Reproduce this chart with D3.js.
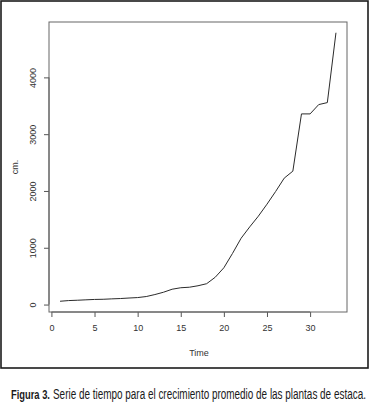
<!DOCTYPE html>
<html>
<head>
<meta charset="utf-8">
<script src="https://cdn.jsdelivr.net/npm/d3@7"></script>
<style>
  html, body { margin: 0; padding: 0; background: #fff; }
  svg { display: block; }
</style>
</head>
<body>
<svg id="chart" width="371" height="403"></svg>
<script>
// Data
const time = [1,2,3,4,5,6,7,8,9,10,11,12,13,14,15,16,17,18,19,20,21,22,23,24,25,26,27,28,29,30,31,32,33];
const growth = [58,70,76,83,90,93,100,106,115,123,141,176,217,270,296,305,331,367,481,648,900,1168,1368,1556,1767,1990,2226,2349,3357,3357,3521,3556,4786];
const xTicks = [0,5,10,15,20,25,30];
const yTicks = [0,1000,2000,3000,4000];
const xLabel = "Time";
const yLabel = "cm.";
const captionBold = "Figura 3.";
const captionText = "Serie de tiempo para el crecimiento promedio de las plantas de estaca.";

const svg = d3.select("#chart");
const box = {left: 49, top: 22, right: 347, bottom: 312};

// outer frame
svg.append("rect").attr("x", 1).attr("y", 1).attr("width", 367).attr("height", 367)
  .attr("fill", "none").attr("stroke", "#1c1c1c").attr("stroke-width", 1.6);

// R-style 4% extended domains
const xmin = d3.min(time), xmax = d3.max(time);
const ymin = d3.min(growth), ymax = d3.max(growth);
const xr = xmax - xmin, yr = ymax - ymin;
const x = d3.scaleLinear().domain([xmin - 0.04 * xr, xmax + 0.04 * xr]).range([box.left, box.right]);
const y = d3.scaleLinear().domain([ymin - 0.04 * yr, ymax + 0.04 * yr]).range([box.bottom, box.top]);

const axisColor = "#555";
const font = "Liberation Sans, Arial, sans-serif";

// x axis
const gx = svg.append("g").attr("transform", `translate(0,${box.bottom})`)
  .call(d3.axisBottom(x).tickValues(xTicks).tickSize(5).tickPadding(8).tickFormat(d3.format("d")));
gx.select(".domain").attr("stroke", axisColor).attr("d", `M${x(0)},0H${x(30)}`);
gx.selectAll(".tick line").attr("stroke", axisColor);
gx.selectAll("text").attr("fill", "#333").style("font-family", font).style("font-size", "9px");

// y axis
const gy = svg.append("g").attr("transform", `translate(${box.left},0)`)
  .call(d3.axisLeft(y).tickValues(yTicks).tickSize(5).tickPadding(0).tickFormat(d3.format("d")));
gy.select(".domain").attr("stroke", axisColor).attr("d", `M0,${y(0)}V${y(4000)}`);
gy.selectAll(".tick line").attr("stroke", axisColor);
gy.selectAll("text").attr("fill", "#333").style("font-family", font).style("font-size", "9px")
  .attr("x", 0).attr("dy", 0)
  .attr("text-anchor", "middle")
  .attr("transform", "translate(-13,0) rotate(-90)");

// plot box
svg.append("rect").attr("x", box.left).attr("y", box.top)
  .attr("width", box.right - box.left).attr("height", box.bottom - box.top)
  .attr("fill", "none").attr("stroke", "#666").attr("stroke-width", 1);

// line
const line = d3.line().x((d, i) => x(time[i])).y(d => y(d));
svg.append("path").datum(growth).attr("d", line)
  .attr("fill", "none").attr("stroke", "#2b2b2b").attr("stroke-width", 1);

// axis titles
svg.append("text").attr("x", (box.left + box.right) / 2 + 1).attr("y", 356)
  .attr("text-anchor", "middle").attr("fill", "#333")
  .style("font-family", font).style("font-size", "9px").text(xLabel);
svg.append("text").attr("transform", `translate(18,${(box.top + box.bottom) / 2}) rotate(-90)`)
  .attr("text-anchor", "middle").attr("fill", "#333")
  .style("font-family", font).style("font-size", "9px").text(yLabel);

// caption: size each part so its natural width fits the reference span,
// then stretch vertically to mimic the condensed face of the reference
const capFont = "Liberation Sans Narrow, Arial Narrow, sans-serif";
function fitText(sel, width, maxSize) {
  sel.style("font-size", maxSize + "px");
  const w = sel.node().getComputedTextLength();
  if (w > width) sel.style("font-size", (maxSize * width / w).toFixed(2) + "px");
}
const capBold = svg.append("text").attr("transform", "translate(11,399) scale(1,1.4)")
  .attr("fill", "#1a1a1a").style("font-family", capFont).style("font-weight", "bold")
  .text(captionBold);
fitText(capBold, 39, 13);
const capReg = svg.append("text").attr("transform", "translate(53,399) scale(1,1.4)")
  .attr("fill", "#1a1a1a").style("font-family", capFont)
  .text(captionText);
fitText(capReg, 313, 13);
</script>
</body>
</html>
